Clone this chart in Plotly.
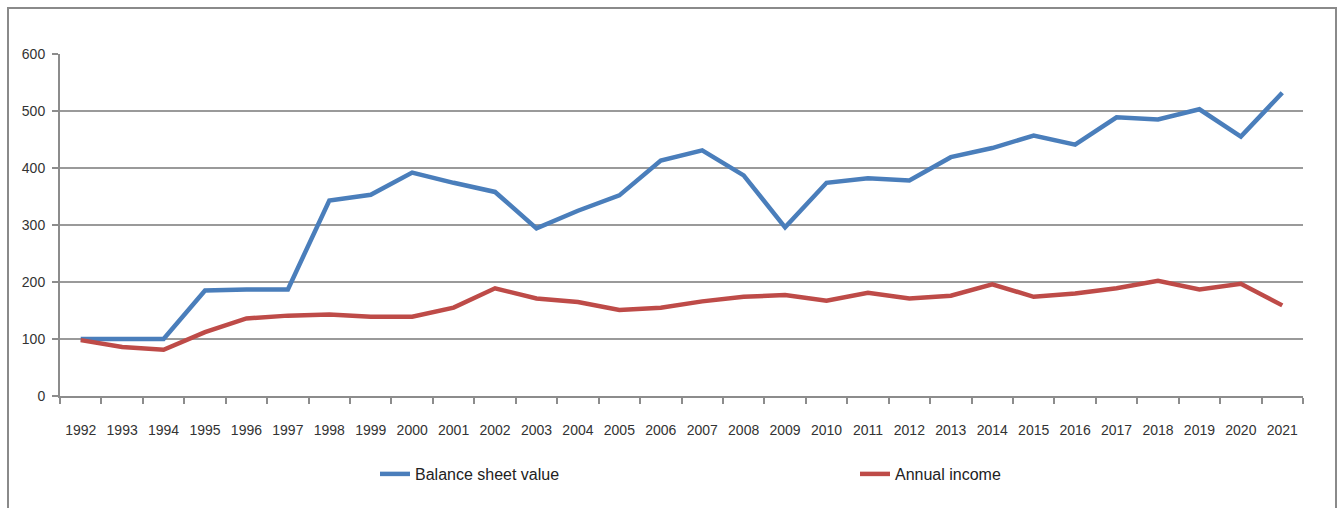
import plotly.graph_objects as go

years = [str(y) for y in range(1992, 2022)]
balance_sheet_value = [100, 100, 100, 185, 187, 187, 343, 353, 392, 374, 358, 294,
                       325, 352, 413, 431, 387, 296, 374, 382, 378, 419, 435, 457,
                       441, 489, 485, 503, 455, 532]
annual_income = [98, 86, 81, 112, 136, 141, 143, 139, 139, 155, 189, 171,
                 165, 151, 155, 166, 174, 177, 167, 181, 171, 176, 196, 174,
                 180, 189, 202, 187, 197, 159]
y_ticks = [0, 100, 200, 300, 400, 500, 600]

W, H = 1337, 508
L, R, T, B = 60, 34, 54, 112
pw, ph = W - L - R, H - T - B

def px(x):
    return (x - L) / pw

def py(y):
    return (H - B - y) / ph

FONT = "Liberation Sans Narrow, Liberation Sans, Arial, sans-serif"

fig = go.Figure()
fig.add_trace(go.Scatter(x=years, y=balance_sheet_value, mode="lines",
                         name="Balance sheet value",
                         line=dict(color="#4A7EBB", width=4.5)))
fig.add_trace(go.Scatter(x=years, y=annual_income, mode="lines",
                         name="Annual income",
                         line=dict(color="#BE4B48", width=4.5)))

fig.update_layout(
    width=W, height=H,
    margin=dict(l=L, r=R, t=T, b=B, pad=0, autoexpand=False),
    paper_bgcolor="white", plot_bgcolor="white",
    font=dict(family=FONT, size=14, color="#333333"),
    showlegend=True,
    legend=dict(orientation="h", x=px(375), y=py(474), yanchor="middle",
                xanchor="left", entrywidth=435, entrywidthmode="pixels",
                font=dict(size=16, color="#222222"), bgcolor="rgba(0,0,0,0)",
                itemwidth=30, tracegroupgap=0),
    xaxis=dict(type="category", range=[-0.5, len(years) - 0.5],
               showgrid=False, showline=True, linecolor="#8c8c8c", linewidth=2,
               ticks="outside", tickson="boundaries", ticklen=6,
               tickcolor="#8c8c8c", tickwidth=1.5, tickangle=0,
               tickfont=dict(size=14, color="#333333"),
               ticklabelstandoff=20, zeroline=False, fixedrange=True),
    yaxis=dict(range=[0, 600], tickvals=y_ticks, ticktext=[str(v) for v in y_ticks],
               showgrid=True, gridcolor="#9a9a9a", gridwidth=2,
               showline=True, linecolor="#8c8c8c", linewidth=2,
               ticks="outside", ticklen=6, tickcolor="#8c8c8c", tickwidth=1.5,
               tickfont=dict(size=14, color="#333333"),
               ticklabelstandoff=4, zeroline=False, fixedrange=True),
    shapes=[dict(type="rect", xref="paper", yref="paper",
                 x0=px(8), x1=px(1336), y0=py(530), y1=py(8),
                 line=dict(color="#8a8a8a", width=2), layer="below")],
)

fig.write_html("out.html")
